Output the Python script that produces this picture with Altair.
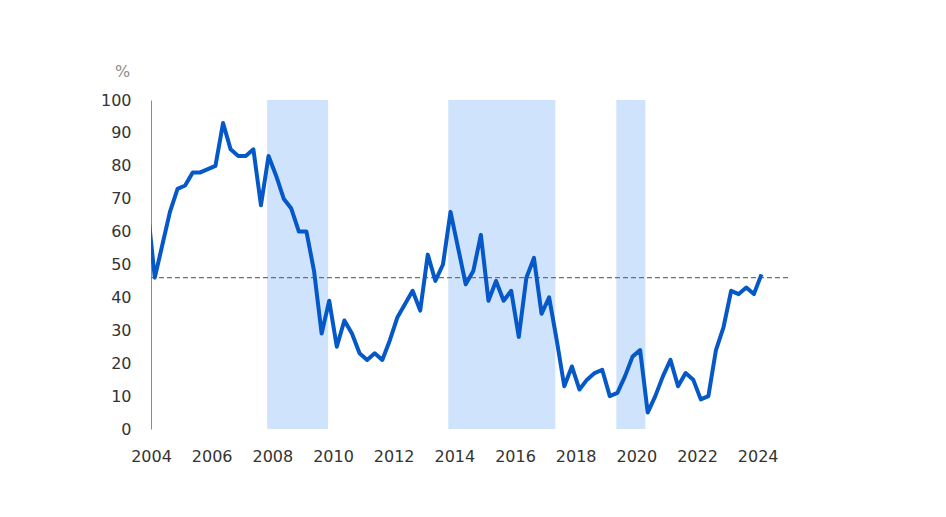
import altair as alt
import pandas as pd

# Quarterly series (quarter labels and values, %)
quarters = (["2003Q4"] +
            [f"{y}Q{q}" for y in range(2004, 2024) for q in range(1, 5)] +
            ["2024Q1"])
values = [68,
          46, 56, 66, 73,
          74, 78, 78, 79,
          80, 93, 85, 83,
          83, 85, 68, 83,
          77, 70, 67, 60,
          60, 48, 29, 39,
          25, 33, 29, 23,
          21, 23, 21, 27,
          34, 38, 42, 36,
          53, 45, 50, 66,
          55, 44, 48, 59,
          39, 45, 39, 42,
          28, 46, 52, 35,
          40, 27, 13, 19,
          12, 15, 17, 18,
          10, 11, 16, 22,
          24, 5, 10, 16,
          21, 13, 17, 15,
          9, 10, 24, 31,
          42, 41, 43, 41,
          47]

# Shaded periods (fractional years)
band_start = [2007.83, 2013.80, 2019.34]
band_end = [2009.84, 2017.33, 2020.30]

# Reference (average) level
avg_level = [46]

year_ticks = list(range(2004, 2025, 2))
y_ticks = list(range(0, 101, 10))

df = pd.DataFrame({"quarter": quarters, "value": values})
df["t"] = df["quarter"].apply(lambda s: int(s[:4]) + (int(s[-1]) - 1) / 4 + 0.125)

bands = pd.DataFrame({"start": band_start, "end": band_end})
avg = pd.DataFrame({"avg": avg_level})

FONT = "DejaVu Sans"

xscale = alt.Scale(domain=[2004, 2025], nice=False, zero=False)
yscale = alt.Scale(domain=[0, 100], nice=False)

xaxis = alt.Axis(values=year_ticks, format="d", title=None, domain=False,
                 ticks=False, grid=False, labelFont=FONT, labelFontSize=16,
                 labelColor="#333333", labelPadding=19,
                 labelFlush=False, labelOverlap=False)
yaxis = alt.Axis(values=y_ticks, title="%", titleAngle=0, titleX=-29, titleY=-29,
                 titleAlign="center", titleBaseline="middle",
                 titleFont=FONT, titleFontSize=16, titleFontWeight="normal",
                 titleColor="#8c8c8c", tickCount=11,
                 domain=True, domainColor="#8c8c8c", domainWidth=1,
                 ticks=False, grid=False, labelFont=FONT, labelFontSize=16,
                 labelColor="#333333", labelPadding=20,
                 labelFlush=False, labelOverlap=False)

band_layer = alt.Chart(bands).mark_rect(color="#cfe3fc").encode(
    x=alt.X("start:Q", scale=xscale, axis=xaxis),
    x2="end:Q",
    y=alt.datum(100, scale=yscale, axis=yaxis),
    y2=alt.datum(0),
)

line_layer = alt.Chart(df).mark_line(color="#0558c8", strokeWidth=4, clip=True,
                                      strokeJoin="round").encode(
    x=alt.X("t:Q", scale=xscale, axis=xaxis),
    y=alt.Y("value:Q", scale=yscale, axis=yaxis),
)

avg_layer = alt.Chart(avg).mark_rule(color="#707070", strokeWidth=1.2,
                                      strokeDash=[5, 3]).encode(
    y=alt.Y("avg:Q", scale=yscale, axis=yaxis),
)

chart = alt.layer(band_layer, avg_layer, line_layer).properties(
    width=637,
    height=329,
    autosize=alt.AutoSizeParams(type="none"),
    padding={"left": 143, "top": 92, "right": 100, "bottom": 60},
    background="white",
).configure_view(stroke=None)

chart.save("out.html", embed_options={"renderer": "svg", "actions": False})
